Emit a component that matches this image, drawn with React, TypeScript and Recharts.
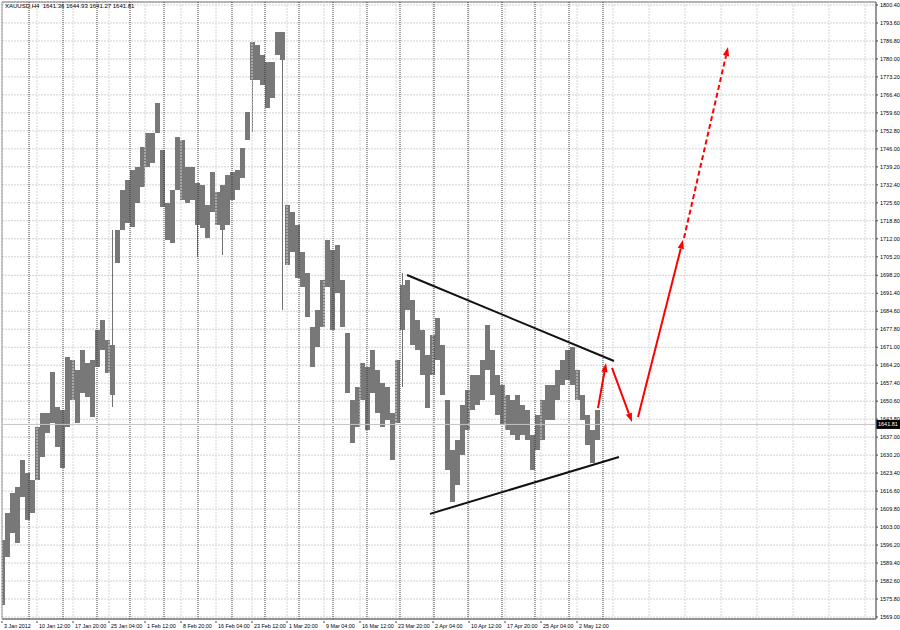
import React from 'react';
import {
  Bar,
  CartesianGrid,
  ComposedChart,
  ReferenceArea,
  ReferenceLine,
  XAxis,
  YAxis,
} from 'recharts';

const chartTitle = 'XAUUSD,H4  1641.36 1644.93 1641.27 1641.81';
const lastPrice = 1641.81;
const yMin = 1568.24;
const yMax = 1801.53;
const xMax = 874;

// price, one column per 5 H4 bars (high / low)
const highs = [
  1598.1, 1608.3, 1615.9, 1618.1, 1628.4, 1623.5, 1620.8, 1640.9, 1646.1, 1646.1,
  1661.6, 1648.4, 1647.3, 1667.3, 1666.2, 1662.4, 1670.0, 1665.1, 1666.2, 1677.5,
  1681.3, 1673.7, 1715.3, 1715.3, 1730.5, 1734.2, 1738.0, 1739.2, 1746.7, 1752.0,
  1752.0, 1763.4, 1745.6, 1725.5, 1730.5, 1750.5, 1749.4, 1739.2, 1739.2, 1733.1,
  1732.4, 1724.8, 1737.3, 1729.7, 1732.4, 1736.1, 1737.3, 1738.0, 1746.3, 1760.0,
  1786.4, 1785.3, 1781.5, 1778.9, 1778.9, 1790.2, 1790.2, 1724.8, 1722.1, 1717.2,
  1707.0, 1699.1, 1678.7, 1685.1, 1696.4, 1711.6, 1707.8, 1709.7, 1696.4, 1676.4,
  1651.1, 1656.0, 1665.1, 1663.5, 1670.0, 1662.4, 1657.5, 1656.0, 1646.1, 1666.2,
  1699.1, 1696.4, 1688.9, 1681.3, 1677.5, 1668.1, 1675.6, 1682.1, 1671.9, 1651.1,
  1632.2, 1635.9, 1649.2, 1654.8, 1660.5, 1660.5, 1666.2, 1679.4, 1670.0, 1660.5,
  1656.7, 1653.0, 1651.1, 1653.0, 1649.2, 1647.3, 1637.8, 1645.4, 1651.1, 1656.7,
  1656.7, 1662.4, 1666.2, 1670.0, 1671.1, 1662.4, 1653.0, 1645.4, 1639.7, 1647.3,
];
const lows = [
  1573.6, 1591.7, 1600.8, 1597.0, 1614.4, 1605.7, 1608.3, 1620.8, 1629.5, 1638.6,
  1642.4, 1633.3, 1625.3, 1640.9, 1651.1, 1642.4, 1653.7, 1652.2, 1644.6, 1663.5,
  1670.0, 1661.3, 1648.4, 1702.9, 1715.3, 1718.0, 1716.5, 1725.5, 1731.6, 1739.2,
  1740.7, 1752.0, 1724.0, 1711.6, 1710.4, 1730.5, 1726.7, 1725.5, 1726.7, 1705.1,
  1716.1, 1712.3, 1722.1, 1717.2, 1705.9, 1717.2, 1726.7, 1730.5, 1735.0, 1749.4,
  1752.4, 1772.1, 1770.2, 1761.5, 1765.2, 1781.5, 1685.1, 1702.1, 1707.0, 1697.2,
  1693.8, 1682.4, 1663.5, 1671.1, 1678.7, 1693.8, 1677.5, 1691.5, 1678.7, 1653.7,
  1634.8, 1640.9, 1651.1, 1639.7, 1653.7, 1646.1, 1640.9, 1643.5, 1628.4, 1642.4,
  1656.0, 1685.1, 1671.9, 1670.0, 1660.5, 1648.0, 1660.5, 1666.2, 1653.0, 1624.6,
  1612.5, 1618.9, 1630.3, 1639.7, 1647.3, 1649.2, 1651.1, 1662.4, 1653.0, 1645.4,
  1641.6, 1639.7, 1637.8, 1635.9, 1637.8, 1635.9, 1624.6, 1632.2, 1635.9, 1643.5,
  1643.5, 1651.1, 1656.7, 1658.6, 1656.7, 1651.1, 1643.5, 1634.0, 1627.2, 1635.9,
];
// columns where one long bar (gap / spike) sticks out of the bulk
const bodies: Record<number, [number, number]> = {
  22: [1653.0, 1671.9],
  39: [1717.2, 1733.1],
  44: [1715.3, 1732.4],
  50: [1772.1, 1786.4],
  56: [1779.6, 1790.2],
  80: [1677.5, 1694.5],
};

const dateTicks = [0, 35, 71, 107, 143, 179, 214, 250, 285, 322, 358, 394, 431, 467, 503, 539, 575];
const dateLabels = [
  '3 Jan 2012', '10 Jan 12:00', '17 Jan 20:00', '25 Jan 04:00', '1 Feb 12:00', '8 Feb 20:00',
  '16 Feb 04:00', '23 Feb 12:00', '1 Mar 20:00', '9 Mar 04:00', '16 Mar 12:00', '23 Mar 20:00',
  '2 Apr 04:00', '10 Apr 12:00', '17 Apr 20:00', '25 Apr 04:00', '2 May 12:00',
];
const gridX = [...dateTicks, 611, 647, 683, 719, 755, 791, 827, 863];
const weekSeparators = [27, 61, 95, 128, 162, 196, 230, 263, 297, 331, 365, 398, 432, 466, 500, 533, 567, 601];

const priceLabels = [
  '1569.00', '1575.80', '1582.60', '1589.40', '1596.20', '1603.00', '1609.80', '1616.60', '1623.40',
  '1630.20', '1637.00', '1643.80', '1650.60', '1657.40', '1664.20', '1671.00', '1677.80', '1684.60',
  '1691.40', '1698.20', '1705.20', '1712.00', '1718.80', '1725.60', '1732.40', '1739.20', '1746.00',
  '1752.80', '1759.60', '1766.40', '1773.20', '1780.00', '1786.80', '1793.60', '1800.40',
];
const priceTicks = priceLabels.map(Number);

// triangle + forecast arrows, [barIndex, price]
const upperTrend = [[405, 1698.3], [612, 1665.8]];
const lowerTrend = [[428, 1608.0], [617, 1629.5]];
const arrows = [
  { from: [596, 1648.0], to: [604, 1665.0], dashed: false },
  { from: [610, 1663.2], to: [630, 1642.7], dashed: false },
  { from: [636, 1644.6], to: [681, 1711.6], dashed: false },
  { from: [682, 1712.3], to: [726, 1784.5], dashed: true },
];

const columns = highs.map((hi, i) => {
  const body = bodies[i] || [lows[i], hi];
  return { x: i * 5 + 0.5, range: [lows[i], hi], hi, lo: lows[i], bodyLo: body[0], bodyHi: body[1] };
});

const FONT = '"Liberation Sans", Arial, sans-serif';

function PriceColumn(props: any) {
  const { x, y, width, height, payload } = props;
  if (height == null || !payload) return null;
  const cx = Math.round(x + width / 2);
  const k = payload.hi === payload.lo ? 0 : height / (payload.hi - payload.lo);
  const top = y + (payload.hi - payload.bodyHi) * k;
  const bottom = y + (payload.hi - payload.bodyLo) * k;
  return (
    <g shapeRendering="crispEdges">
      <rect x={cx} y={y} width={1} height={height} fill="#737373" />
      <rect x={cx - 2} y={top} width={5} height={Math.max(bottom - top, 1)} fill="#787878" />
    </g>
  );
}

function ArrowLine(props: any) {
  const { x1, y1, x2, y2, stroke, strokeDasharray } = props;
  const a = Math.atan2(y2 - y1, x2 - x1);
  const len = 9;
  const half = 3.2;
  const bx = x2 - len * Math.cos(a);
  const by = y2 - len * Math.sin(a);
  const pts = `${x2},${y2} ${bx - half * Math.sin(a)},${by + half * Math.cos(a)} ${bx + half * Math.sin(a)},${by - half * Math.cos(a)}`;
  return (
    <g>
      <line x1={x1} y1={y1} x2={bx} y2={by} stroke={stroke} strokeWidth={2} strokeDasharray={strokeDasharray} />
      <polygon points={pts} fill={stroke} />
    </g>
  );
}

function DateTick({ x, y, payload }: any) {
  const idx = dateTicks.indexOf(payload.value);
  return (
    <g>
      <line x1={x} y1={y} x2={x} y2={y + 2} stroke="#444" />
      <text x={x + 2} y={y + 7} fontSize={5.4} fontFamily={FONT} fill="#000" textAnchor="start">
        {dateLabels[idx]}
      </text>
    </g>
  );
}

function PriceTick({ x, y, payload }: any) {
  const idx = priceTicks.indexOf(payload.value);
  return (
    <text x={x} y={y + 2} fontSize={5.5} fontFamily={FONT} fill="#000" textAnchor="start">
      {priceLabels[idx]}
    </text>
  );
}

function LastPriceTag({ viewBox }: any) {
  const left = viewBox.x + viewBox.width;
  return (
    <g>
      <rect x={left} y={viewBox.y - 4.5} width={24} height={9} fill="#000" />
      <text x={left + 2} y={viewBox.y + 2} fontSize={5.5} fontFamily={FONT} fill="#fff">
        {lastPrice.toFixed(2)}
      </text>
    </g>
  );
}

export default function App() {
  return (
    <div style={{ position: 'absolute', left: 0, top: 0, width: 900, height: 630, background: '#fff' }}>
      <ComposedChart
        width={900}
        height={630}
        data={columns}
        margin={{ top: 2, right: 0, bottom: 0, left: 2 }}
        barGap={0}
      >
        <CartesianGrid vertical={false} stroke="#d2d2d2" strokeDasharray="2 1" />
        {gridX.map((v) => (
          <ReferenceLine key={`g${v}`} x={v} stroke="#d6d6d6" strokeDasharray="2 1" />
        ))}
        {weekSeparators.map((v) => (
          <ReferenceLine key={`w${v}`} x={v} stroke="#3a3a3a" strokeDasharray="1 1" />
        ))}
        <XAxis
          dataKey="x"
          type="number"
          domain={[0, xMax]}
          ticks={dateTicks}
          interval={0}
          tick={<DateTick />}
          tickLine={false}
          tickSize={0}
          height={11}
          axisLine={{ stroke: '#777' }}
          allowDataOverflow
        />
        <YAxis
          orientation="right"
          type="number"
          domain={[yMin, yMax]}
          ticks={priceTicks}
          interval={0}
          tick={<PriceTick />}
          tickSize={2}
          tickLine={{ stroke: '#444' }}
          width={24}
          axisLine={{ stroke: '#777' }}
          allowDataOverflow
        />
        <ReferenceLine y={lastPrice} stroke="#c4c4c4" label={<LastPriceTag />} />
        <Bar dataKey="range" barSize={5} shape={<PriceColumn />} isAnimationActive={false} />
        <ReferenceLine
          segment={upperTrend.map(([x, y]) => ({ x, y }))}
          stroke="#111"
          strokeWidth={2}
        />
        <ReferenceLine
          segment={lowerTrend.map(([x, y]) => ({ x, y }))}
          stroke="#111"
          strokeWidth={2}
        />
        {arrows.map((a, i) => (
          <ReferenceLine
            key={`a${i}`}
            segment={[{ x: a.from[0], y: a.from[1] }, { x: a.to[0], y: a.to[1] }]}
            stroke="#ff0000"
            strokeDasharray={a.dashed ? '5 3' : undefined}
            shape={<ArrowLine />}
          />
        ))}
        <ReferenceArea x1={0} x2={xMax} y1={yMin} y2={yMax} fill="none" stroke="#777" />
      </ComposedChart>
      <div
        style={{
          position: 'absolute',
          left: 5,
          top: 3,
          fontSize: 6,
          fontFamily: FONT,
          color: '#000',
          whiteSpace: 'pre',
        }}
      >
        {chartTitle}
      </div>
    </div>
  );
}
